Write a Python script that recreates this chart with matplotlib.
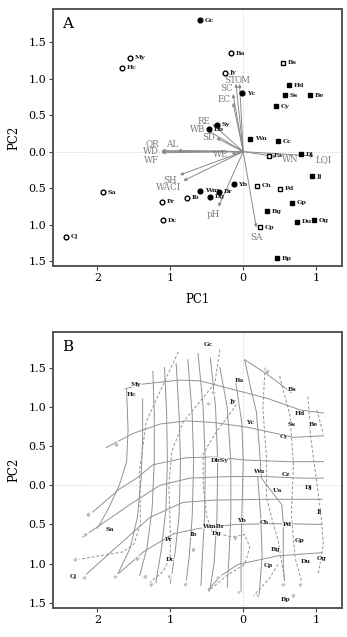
import numpy as np
import matplotlib
matplotlib.use("Agg")
import matplotlib.pyplot as plt
from matplotlib.ticker import FuncFormatter

plt.rcParams['font.family'] = ['DejaVu Serif']

# ---- panel A: sites (PC1, PC2) and marker group ----
sites = ['Gc', 'Ba', 'My', 'Hc', 'Bs', 'Jy', 'Hd', 'Yc', 'Ss', 'Be', 'Cy', 'Sy', 'Db',
         'Wn', 'Cc', 'Ea', 'Dj', 'Jj', 'Sa', 'Yb', 'Ch', 'Pd', 'Wm', 'Br', 'Dg', 'Ib',
         'Pr', 'Gp', 'Bg', 'Dc', 'Du', 'Og', 'Cp', 'Cj', 'Bp']
pc1 = [-0.59, -0.17, -1.56, -1.66, 0.545, -0.25, 0.63, -0.01, 0.57, 0.91, 0.45, -0.36, -0.47,
       0.10, 0.48, 0.36, 0.79, 0.94, -1.92, -0.13, 0.19, 0.51, -0.595, -0.33, -0.45, -0.77,
       -1.11, 0.67, 0.32, -1.10, 0.74, 0.97, 0.235, -2.43, 0.46]
pc2 = [1.80, 1.35, 1.29, 1.15, 1.22, 1.085, 0.91, 0.80, 0.775, 0.775, 0.62, 0.37, 0.31,
       0.175, 0.14, -0.055, -0.036, -0.34, -0.56, -0.45, -0.47, -0.51, -0.535, -0.55, -0.62, -0.63,
       -0.69, -0.70, -0.82, -0.94, -0.96, -0.94, -1.04, -1.17, -1.46]
group = ['fc', 'oc', 'oc', 'oc', 'os', 'oc', 'fs', 'fc', 'fs', 'fs', 'fs', 'fc', 'fc',
         'fs', 'fs', 'os', 'fs', 'fs', 'oc', 'fc', 'os', 'os', 'fc', 'fc', 'fc', 'oc',
         'oc', 'fs', 'fs', 'oc', 'fs', 'fs', 'os', 'oc', 'fs']

# ---- panel A: environmental vectors (tips) ----
vec_names = ['ST', 'OM', 'SC', 'EC', 'RE', 'WB', 'SD', 'QR', 'WD', 'WF', 'AL', 'WE',
             'WN', 'LQI', 'SH', 'WACI', 'pH', 'SA']
vec_x = [-0.10, -0.05, -0.14, -0.14, -0.42, -0.50, -0.37, -1.12, -1.12, -1.12, -0.90, -0.16,
         0.46, 0.97, -0.87, -0.82, -0.34, 0.18]
vec_y = [0.93, 0.93, 0.79, 0.67, 0.38, 0.30, 0.19, 0.015, 0.0, -0.015, 0.015, -0.03,
         -0.07, -0.06, -0.32, -0.40, -0.755, -1.04]

# ---- panel B: site labels ----
b_sites = ['Gc', 'My', 'Hc', 'Ba', 'Bs', 'Jy', 'Hd', 'Yc', 'Ss', 'Be', 'Cy', 'DbSy', 'Wu',
           'Cz', 'Ua', 'Dj', 'Jj', 'Yb', 'Ch', 'Pd', 'Sa', 'WmBr', 'Dg', 'Pr', 'Ib', 'Gp',
           'Bg', 'Dc', 'Du', 'Og', 'Cp', 'Cj', 'Bp']
b_x = [-0.48, -1.465, -1.53, -0.055, 0.664, -0.15, 0.78, 0.10, 0.664, 0.96, 0.56, -0.33, 0.206,
       0.59, 0.47, 0.89, 1.04, -0.02, 0.29, 0.60, -1.83, -0.41, -0.36, -1.02, -0.68, 0.78,
       0.44, -1.0, 0.85, 1.07, 0.34, -2.33, 0.58]
b_y = [1.80, 1.29, 1.15, 1.34, 1.22, 1.07, 0.91, 0.80, 0.77, 0.78, 0.62, 0.32, 0.17,
       0.14, -0.07, -0.03, -0.34, -0.45, -0.47, -0.50, -0.56, -0.53, -0.61, -0.69, -0.63, -0.70,
       -0.82, -0.95, -0.97, -0.94, -1.03, -1.17, -1.46]

# ---- panel B: fitted surface isolines (solid and dashed) ----
solid_lines = [
    [(-1.62, 1.23), (-1.37, 1.29), (-0.87, 1.34), (-0.59, 1.33), (-0.14, 1.22), (0.32, 1.11), (0.78, 0.96), (1.10, 0.92)],
    [(-1.88, 0.48), (-1.51, 0.66), (-1.14, 0.78), (-0.78, 0.82), (-0.41, 0.80), (0.05, 0.74), (0.50, 0.65), (0.69, 0.61), (1.10, 0.63)],
    [(-2.10, -0.37), (-1.70, -0.05), (-1.46, 0.09), (-1.24, 0.26), (-0.78, 0.35), (-0.41, 0.36), (0.05, 0.32), (0.60, 0.30), (1.10, 0.30)],
    [(-2.20, -0.66), (-1.56, -0.25), (-1.14, 0.0), (-0.73, 0.09), (-0.20, 0.11), (0.30, 0.11), (0.80, 0.09), (1.10, 0.09)],
    [(-2.17, -1.15), (-1.74, -0.79), (-1.28, -0.41), (-0.83, -0.22), (-0.40, -0.19), (0.30, -0.18), (1.08, -0.18)],
    [(-1.74, -1.15), (-1.37, -0.85), (-0.96, -0.62), (-0.60, -0.55), (-0.10, -0.50), (0.50, -0.49), (1.08, -0.50)],
    [(-0.48, -1.33), (-0.30, -1.15), (-0.07, -1.01), (0.48, -0.90), (1.08, -0.86)],
    [(0.02, 1.60), (0.35, 1.40), (0.66, 1.18)],
    [(-1.60, 1.22), (-1.58, 0.70), (-1.60, 0.30), (-1.70, 0.0), (-1.85, -0.30), (-2.00, -0.55)],
    [(-1.38, 1.10), (-1.38, 0.60), (-1.40, 0.10), (-1.45, -0.40), (-1.55, -0.80), (-1.72, -1.13)],
    [(-1.24, 1.45), (-1.22, 0.90), (-1.22, 0.30), (-1.25, -0.30), (-1.32, -0.80), (-1.42, -1.15)],
    [(-1.08, 1.50), (-1.05, 0.90), (-1.04, 0.30), (-1.06, -0.30), (-1.12, -0.80), (-1.20, -1.25)],
    [(-0.92, 1.55), (-0.88, 0.90), (-0.86, 0.30), (-0.88, -0.40), (-0.94, -0.90), (-1.00, -1.25)],
    [(-0.76, 1.60), (-0.70, 0.90), (-0.68, 0.30), (-0.70, -0.40), (-0.74, -0.90), (-0.78, -1.22)],
    [(-0.62, 1.68), (-0.55, 1.00), (-0.52, 0.30), (-0.53, -0.40), (-0.56, -0.90), (-0.58, -1.28)],
    [(-0.45, 1.62), (-0.38, 1.00), (-0.35, 0.30), (-0.36, -0.40), (-0.40, -1.00), (-0.46, -1.35)],
    [(-0.32, 1.50), (-0.22, 1.00), (-0.17, 0.30), (-0.17, -0.40), (-0.20, -1.00), (-0.22, -1.30)],
    [(-0.10, 1.30), (-0.02, 0.80), (0.00, 0.30), (-0.02, -0.40), (-0.03, -1.00), (-0.03, -1.37)],
    [(0.02, 1.60), (0.10, 1.25), (0.18, 0.94), (0.22, 0.50), (0.25, 0.09), (0.53, -0.25), (0.55, -0.50), (0.55, -1.01), (0.57, -1.26)],
    [(0.20, 0.10), (0.24, -0.40), (0.26, -0.90), (0.22, -1.39)],
]
dashed_lines = [
    [(-0.89, 1.70), (-1.08, 1.32), (-1.33, 0.81), (-1.42, 0.20), (-1.41, -0.50), (-1.50, -0.75), (-1.65, -0.85), (-2.29, -0.95)],
    [(-0.32, 1.73), (-0.39, 1.30), (-0.59, 1.07), (-0.82, 0.81), (-0.98, 0.43), (-1.02, 0.0), (-1.00, -0.60), (-1.00, -0.92), (-1.10, -1.10), (-1.28, -1.24)],
    [(-0.09, 1.03), (-0.39, 0.65), (-0.55, 0.40), (-0.55, 0.0), (-0.50, -0.40), (-0.42, -0.60), (-0.15, -0.66), (0.02, -0.63), (0.09, -0.79), (0.02, -1.01), (-0.21, -1.14), (-0.48, -1.35)],
    [(0.30, 1.50), (0.27, 0.98), (0.32, 0.35), (0.32, -0.16), (0.40, -0.45), (0.48, -0.71), (0.57, -1.22)],
    [(0.50, 1.39), (0.64, 0.90), (0.69, 0.26), (0.66, -0.37), (0.71, -0.92), (0.80, -1.22)],
    [(0.89, 1.13), (0.92, 0.65), (1.00, 0.10), (1.07, -0.40), (1.10, -0.75), (1.03, -1.14)],
    [(1.01, 0.96), (1.10, 0.65)],
    [(0.48, -1.01), (0.35, -1.20), (0.14, -1.41)],
]
iso_labels = ['40', '40', '40', '14', '30', '12', '25', '45', '20', '25', '15', '10', '40', '75',
              '40', '0', '0', '35', '25', '20', '15', '12']
iso_x = [-1.72, 0.35, -2.10, -2.15, -2.29, -2.17, -1.74, -1.44, -1.33, -1.24, -1.00, -0.78,
         -0.66, -0.32, -0.09, -0.05, 0.21, 0.57, 0.80, 0.71, -0.39, -0.46]
iso_y = [0.52, 1.45, -0.37, -0.63, -0.95, -1.17, -1.16, -0.94, -1.16, -1.26, -1.16, -1.26,
         -0.82, -1.18, -0.67, -1.37, -1.41, -1.26, -1.26, -1.41, 1.18, 1.04]


def style_axes(ax, letter):
    ax.set_xlim(-2.61, 1.356)
    ax.set_ylim(-1.569, 1.957)
    ax.axhline(0, color='#cccccc', lw=0.7, ls=':', zorder=0)
    ax.axvline(0, color='#cccccc', lw=0.7, ls=':', zorder=0)
    ax.set_xticks([-2, -1, 0, 1])
    ax.set_yticks([-1.5, -1.0, -0.5, 0.0, 0.5, 1.0, 1.5])
    ax.xaxis.set_major_formatter(FuncFormatter(lambda v, p: '%d' % abs(v)))
    ax.yaxis.set_major_formatter(FuncFormatter(lambda v, p: '%.1f' % abs(v)))
    ax.tick_params(labelsize=8, length=3, width=0.8, color='#444444', pad=2)
    for s in ax.spines.values():
        s.set_color('#555555')
        s.set_linewidth(1.4)
    ax.set_ylabel('PC2', fontsize=8.5, labelpad=6)
    ax.text(0.03, 0.97, letter, transform=ax.transAxes, fontsize=11,
            ha='left', va='top')


fig = plt.figure(figsize=(3.47, 6.37), dpi=100)
axA = fig.add_axes([0.1527, 0.5824, 0.833, 0.4035])
axB = fig.add_axes([0.1527, 0.0451, 0.833, 0.4342])

# ---- draw A ----
style_axes(axA, 'A')
axA.set_xlabel('PC1', fontsize=8.5, labelpad=7)
for n, x, y in zip(vec_names, vec_x, vec_y):
    axA.annotate('', xy=(x, y), xytext=(0, 0),
                 arrowprops=dict(arrowstyle='-|>', color='#8a8a8a', lw=0.7,
                                 mutation_scale=4.5, shrinkA=0, shrinkB=0))
lab_off = {'ST': (-0.08, 0.05, 'center'), 'OM': (0.04, 0.05, 'center'),
           'SC': (-0.09, 0.07, 'center'), 'EC': (-0.12, 0.04, 'center'),
           'RE': (-0.03, 0.035, 'right'), 'WB': (-0.02, 0.0, 'right'),
           'SD': (-0.02, 0.0, 'right'), 'QR': (-0.04, 0.10, 'right'),
           'WD': (-0.04, 0.0, 'right'), 'WF': (-0.04, -0.10, 'right'),
           'AL': (-0.08, 0.08, 'center'), 'WE': (-0.15, -0.015, 'center'),
           'WN': (0.19, -0.04, 'center'), 'LQI': (0.13, -0.05, 'center'),
           'SH': (-0.04, -0.07, 'right'), 'WACI': (-0.03, -0.095, 'right'),
           'pH': (-0.07, -0.105, 'center'), 'SA': (0.0, -0.14, 'center')}
for n, x, y in zip(vec_names, vec_x, vec_y):
    dx, dy, ha = lab_off[n]
    axA.text(x + dx, y + dy, n, fontsize=6.3, color='#7a7a7a', ha=ha, va='center')

mk = {'fc': ('o', 'black'), 'oc': ('o', 'white'), 'fs': ('s', 'black'), 'os': ('s', 'white')}
for s, x, y, g in zip(sites, pc1, pc2, group):
    m, fc = mk[g]
    axA.plot(x, y, marker=m, ms=3.4, mfc=fc, mec='black', mew=1.0, ls='none', zorder=4)
    axA.text(x + 0.065, y, s, fontsize=4.6, fontweight='bold', color='#222222',
             ha='left', va='center', zorder=5)

# ---- draw B ----
style_axes(axB, 'B')
for line in solid_lines:
    xs, ys = zip(*line)
    axB.plot(xs, ys, color='#929292', lw=0.7, solid_joinstyle='round')
for line in dashed_lines:
    xs, ys = zip(*line)
    axB.plot(xs, ys, color='#929292', lw=0.7, ls=(0, (3, 2)))
for t, x, y in zip(iso_labels, iso_x, iso_y):
    axB.text(x, y, t, fontsize=2.8, color='#555555', ha='center', va='center', rotation=50,
             bbox=dict(fc='white', ec='none', pad=0.2))
for s, x, y in zip(b_sites, b_x, b_y):
    axB.text(x, y, s, fontsize=4.5, fontweight='bold', color='#222222',
             ha='center', va='center', zorder=5,
             bbox=dict(fc='white', ec='none', pad=0.1, alpha=0.8))

fig.savefig('out.png', dpi=100)
